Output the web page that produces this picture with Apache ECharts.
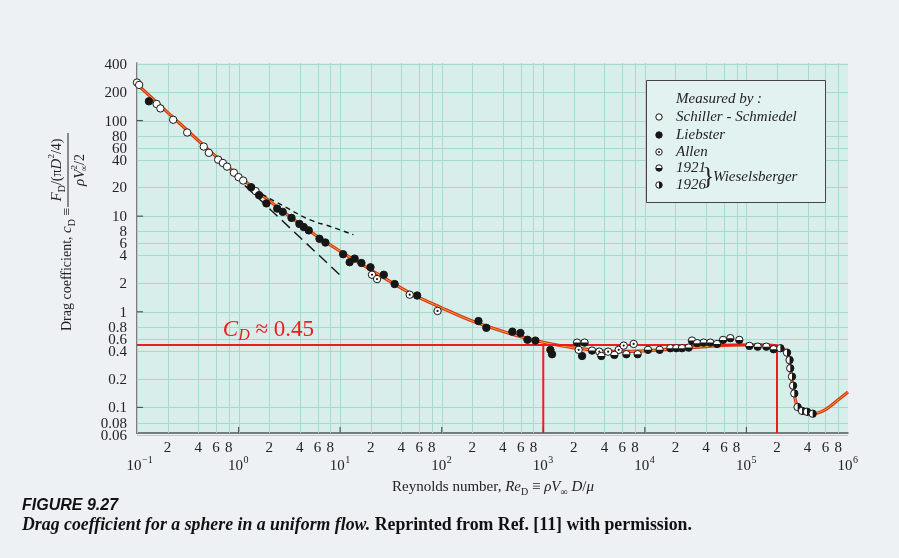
<!DOCTYPE html>
<html>
<head>
<meta charset="utf-8">
<script src="https://cdn.jsdelivr.net/npm/echarts@6/dist/echarts.min.js"></script>
<style>
  html, body { margin: 0; background: #eef1f4; }
  #chart { width: 899px; height: 558px; }
</style>
</head>
<body>
<div id="chart"></div>
<script>
'use strict';
// axis ranges
const xMin = 0.1, xMax = 1e6;
const yMin = 0.054, yMax = 400;

// tick labels
const xDecades = [0.1, 1, 10, 100, 1000, 10000, 100000, 1000000];
const xDecadeExp = ['\u22121', '0', '1', '2', '3', '4', '5', '6'];
const minorSteps = [2, 4, 6, 8];
const yTickLabels = [400, 200, 100, 80, 60, 40, 20, 10, 8, 6, 4, 2, 1, 0.8, 0.6, 0.4, 0.2, 0.1, 0.08, 0.06];
const yMajor = [0.1, 1, 10, 100];

// fitted curve
const curveRe = [0.1, 0.2, 0.5, 1, 2, 5, 10, 20, 50, 100, 200, 500, 1000, 2000, 5000, 1e4, 2e4, 5e4, 1e5, 1.6e5, 2.2e5, 2.5e5, 2.7e5, 2.85e5, 3.1e5, 3.5e5, 4.5e5, 6e5, 8e5, 1e6];
const curveCd = [240, 122, 50, 26.5, 14.5, 7.0, 4.3, 2.75, 1.55, 1.1, 0.8, 0.58, 0.48, 0.42, 0.385, 0.39, 0.41, 0.44, 0.45, 0.45, 0.42, 0.37, 0.26, 0.17, 0.11, 0.09, 0.086, 0.095, 0.12, 0.145];

// asymptotes (dashed)
const stokesRe = [1.15, 10.5];
const stokesCd = [21, 2.3];
const oseenRe = [1.7, 3, 5, 8, 13.5];
const oseenCd = [17, 12.2, 9.2, 7.8, 6.4];

// reference lines
const cdRef = 0.45;
const reMarks = [1000, 200000];

// measurements
const schiller = [[0.1, 250], [0.105, 236], [0.156, 149], [0.17, 134], [0.227, 102], [0.312, 75], [0.454, 53.5], [0.51, 46], [0.63, 39], [0.7, 36], [0.77, 33], [0.9, 28.5], [1.0, 25.6], [1.11, 23.6], [1.47, 18.3]];
const liebster = [[0.131, 159], [1.33, 20.1], [1.59, 16.6], [1.88, 13.6], [2.4, 12.0], [2.72, 11.1], [3.32, 9.6], [3.97, 8.3], [4.38, 7.7], [4.91, 7.1], [6.26, 5.8], [7.16, 5.3], [10.7, 4.0], [12.4, 3.3], [13.9, 3.6], [16.2, 3.24], [19.9, 2.92], [26.9, 2.44], [34.4, 1.95], [57.3, 1.48], [230, 0.8], [275, 0.68], [496, 0.62], [596, 0.6], [698, 0.51], [836, 0.5], [1175, 0.4], [1220, 0.36], [2410, 0.345]];
const allen = [[20.6, 2.44], [23.1, 2.2], [48.4, 1.51], [91, 1.02], [2230, 0.4], [3560, 0.383], [4350, 0.383], [5530, 0.4], [6190, 0.443], [7760, 0.461]];
const wies1921 = [[2150, 0.476], [2550, 0.476], [3020, 0.393], [3730, 0.345], [5010, 0.354], [6570, 0.36], [8490, 0.36], [10740, 0.4], [13990, 0.4], [17810, 0.416], [20400, 0.416], [23200, 0.416], [27000, 0.422], [29100, 0.5], [32700, 0.47], [37900, 0.476], [44100, 0.476], [51400, 0.461], [58900, 0.508], [69400, 0.53], [85100, 0.508], [107000, 0.44], [129000, 0.432], [157000, 0.432], [185000, 0.406]];
const wies1926 = [[216000, 0.416], [251000, 0.374], [266000, 0.313], [270000, 0.257], [281000, 0.21], [288000, 0.169], [296000, 0.14], [319000, 0.101], [353000, 0.092], [395000, 0.09], [449000, 0.086]];

const SERIF = '"Liberation Serif", "DejaVu Serif", serif';
const INK = '#161616';

function zip(a, b) { return a.map((v, i) => [v, b[i]]); }

function markerShapes(kind, cx, cy, r, z) {
  let out = [{
    type: 'circle', z: z, shape: { cx: cx, cy: cy, r: r },
    style: { fill: kind === 'filled' ? INK : '#ffffff', stroke: INK, lineWidth: 1 }
  }];
  if (kind === 'bottom') {
    out.push({ type: 'sector', z: z, shape: { cx: cx, cy: cy, r0: 0, r: r, startAngle: 0, endAngle: Math.PI }, style: { fill: INK } });
  }
  if (kind === 'right') {
    out.push({ type: 'sector', z: z, shape: { cx: cx, cy: cy, r0: 0, r: r, startAngle: -Math.PI / 2, endAngle: Math.PI / 2 }, style: { fill: INK } });
  }
  if (kind === 'dot') {
    out.push({ type: 'circle', z: z, shape: { cx: cx, cy: cy, r: 1.1 }, style: { fill: INK } });
  }
  return out;
}

function pointSeries(name, data, kind) {
  return {
    name: name, type: 'custom', data: data, z: 5, clip: false,
    encode: { x: 0, y: 1 },
    renderItem: function (params, api) {
      let p = api.coord([api.value(0), api.value(1)]);
      return { type: 'group', children: markerShapes(kind, p[0], p[1], 3.7) };
    }
  };
}

let chart = echarts.init(document.getElementById('chart'));
chart.setOption({
  backgroundColor: '#eef1f4',
  animation: false,
  grid: { left: 137, right: 51, top: 63, bottom: 125, show: true, backgroundColor: '#d7eeea', borderWidth: 0 },
  xAxis: {
    type: 'log', logBase: 10, min: xMin, max: xMax,
    axisLine: { show: true, lineStyle: { color: '#555', width: 1.5 } },
    axisTick: { show: false }, axisLabel: { show: false }, splitLine: { show: false }
  },
  yAxis: {
    type: 'log', logBase: 10, min: yMin, max: yMax,
    axisLine: { show: true, lineStyle: { color: '#555', width: 1.5 } },
    axisTick: { show: false }, axisLabel: { show: false }, splitLine: { show: false }
  },
  series: [
    { type: 'line', data: zip(curveRe, curveCd), smooth: 0.3, showSymbol: false, z: 2, lineStyle: { color: '#d8361c', width: 3.2 } },
    { type: 'line', data: zip(curveRe, curveCd), smooth: 0.3, showSymbol: false, z: 2, lineStyle: { color: '#f0a62a', width: 1 } },
    { type: 'line', data: zip(stokesRe, stokesCd), showSymbol: false, z: 2, lineStyle: { color: INK, width: 1.4, type: [11, 6] } },
    { type: 'line', data: zip(oseenRe, oseenCd), smooth: true, showSymbol: false, z: 2, lineStyle: { color: INK, width: 1.4, type: [5, 4] } },
    { type: 'line', data: [[xMin, cdRef], [reMarks[1], cdRef], [reMarks[1], yMin]], showSymbol: false, z: 3, lineStyle: { color: '#ee1c1c', width: 2 } },
    { type: 'line', data: [[reMarks[0], cdRef], [reMarks[0], yMin]], showSymbol: false, z: 3, lineStyle: { color: '#ee1c1c', width: 2 } },
    pointSeries('Schiller - Schmiedel', schiller, 'open'),
    pointSeries('Liebster', liebster, 'filled'),
    pointSeries('Allen', allen, 'dot'),
    pointSeries('1921', wies1921, 'bottom'),
    pointSeries('1926', wies1926, 'right')
  ]
});

function px(x, y) { return chart.convertToPixel({ xAxisIndex: 0, yAxisIndex: 0 }, [x, y]); }

// the printed graph paper sets its 6 and 8 lines a little lower than true log spacing
function paperShift(v) {
  let m = Math.round(v / Math.pow(10, Math.floor(Math.log10(v) + 1e-9)));
  if (m === 8 || m === 6) return 6;
  if (m === 4) return 1;
  return 0;
}

let g = [];
let plotLeft = px(xMin, yMin)[0], plotRight = px(xMax, yMin)[0];
let plotTop = px(xMin, yMax)[1], plotBottom = px(xMin, yMin)[1];
let gridColor = '#a3dacd';

// paper grid
xDecades.forEach(function (d, i) {
  if (i === xDecades.length - 1) return;
  [1].concat(minorSteps).forEach(function (m) {
    let x = Math.round(px(d * m, 1)[0]) + 0.5;
    g.push({ type: 'line', z: 1, silent: true, shape: { x1: x, y1: plotTop, x2: x, y2: plotBottom }, style: { stroke: gridColor, lineWidth: 1 } });
  });
});
yTickLabels.forEach(function (v) {
  let y = Math.round(px(1, v)[1] + paperShift(v)) + 0.5;
  g.push({ type: 'line', z: 1, silent: true, shape: { x1: plotLeft, y1: y, x2: plotRight, y2: y }, style: { stroke: gridColor, lineWidth: 1 } });
});

// ticks
xDecades.slice(1, -1).forEach(function (d) {
  let x = px(d, 1)[0];
  g.push({ type: 'line', z: 6, shape: { x1: x, y1: plotBottom, x2: x, y2: plotBottom - 6 }, style: { stroke: '#555', lineWidth: 1.2 } });
});
yMajor.forEach(function (v) {
  let y = px(1, v)[1];
  g.push({ type: 'line', z: 6, shape: { x1: plotLeft, y1: y, x2: plotLeft + 6, y2: y }, style: { stroke: '#555', lineWidth: 1.2 } });
});

// x labels
xDecades.forEach(function (d, i) {
  let x = px(d, 1)[0];
  g.push({ type: 'text', z: 6, x: x - 3, y: plotBottom + 33, style: { text: '10', font: '15px ' + SERIF, fill: '#222', align: 'center', verticalAlign: 'middle' } });
  g.push({ type: 'text', z: 6, x: x + 5, y: plotBottom + 27, style: { text: xDecadeExp[i], font: '10px ' + SERIF, fill: '#222', align: 'left', verticalAlign: 'middle' } });
  if (i === xDecades.length - 1) return;
  minorSteps.forEach(function (m) {
    let xm = px(d * m, 1)[0];
    g.push({ type: 'text', z: 6, x: xm, y: plotBottom + 15, style: { text: String(m), font: '15px ' + SERIF, fill: '#222', align: 'center', verticalAlign: 'middle' } });
  });
});

// y labels
yTickLabels.forEach(function (v) {
  let y = px(1, v)[1] + paperShift(v);
  g.push({ type: 'text', z: 6, x: plotLeft - 10, y: y + 1, style: { text: String(v), font: '15px ' + SERIF, fill: '#222', align: 'right', verticalAlign: 'middle' } });
});

// axis titles
let richBase = {
  sub: { fontSize: 10, lineHeight: 12, verticalAlign: 'bottom', fontFamily: SERIF },
  sup: { fontSize: 9, lineHeight: 12, verticalAlign: 'top', fontFamily: SERIF },
  it: { fontSize: 15, lineHeight: 20, fontStyle: 'italic', fontFamily: SERIF }
};
g.push({
  type: 'text', z: 6, x: 392, y: 487,
  style: {
    text: 'Reynolds number, {it|Re}{sub|D} \u2261 {it|\u03c1V}{sub|\u221e} {it|D}/{it|\u03bc}',
    font: '15px ' + SERIF, lineHeight: 20, fill: '#222', align: 'left', verticalAlign: 'middle', rich: richBase
  }
});
g.push({
  type: 'group', x: 67, y: 331, rotation: Math.PI / 2, z: 6,
  children: [
    { type: 'text', z: 6, x: 0, y: 0, style: { text: 'Drag coefficient, {it|c}{sub|D} \u2261', font: '14px ' + SERIF, lineHeight: 20, fill: '#222', align: 'left', verticalAlign: 'middle', rich: richBase } },
    { type: 'text', z: 6, x: 161, y: -10, style: { text: '{it|F}{sub|D}/(\u03c0{it|D}{sup|2}/4)', font: '14px ' + SERIF, lineHeight: 20, fill: '#222', align: 'center', verticalAlign: 'middle', rich: richBase } },
    { type: 'line', z: 6, shape: { x1: 124, y1: 1, x2: 198, y2: 1 }, style: { stroke: '#222', lineWidth: 1 } },
    { type: 'text', z: 6, x: 161, y: 13, style: { text: '{it|\u03c1V}{sup|2}/2', font: '14px ' + SERIF, lineHeight: 20, fill: '#222', align: 'center', verticalAlign: 'middle', rich: richBase } },
    { type: 'text', z: 6, x: 163, y: 18, style: { text: '\u221e', font: '9px ' + SERIF, fill: '#222', align: 'center', verticalAlign: 'middle' } }
  ]
});

// C_D label
let lp = px(0.7, cdRef);
g.push({
  type: 'text', z: 6, x: lp[0], y: lp[1] - 15,
  style: {
    text: '{c|C}{d|D} \u2248 0.45', font: '23px ' + SERIF, lineHeight: 28, fill: '#ee1c1c', align: 'left', verticalAlign: 'middle',
    rich: { c: { fontSize: 23, fontStyle: 'italic', lineHeight: 28, fontFamily: SERIF, fill: '#ee1c1c' }, d: { fontSize: 16, fontStyle: 'italic', lineHeight: 18, verticalAlign: 'bottom', fontFamily: SERIF, fill: '#ee1c1c' } }
  }
});

// legend box
let legendRows = [
  ['Schiller - Schmiedel', 'open', 117],
  ['Liebster', 'filled', 135],
  ['Allen', 'dot', 152],
  ['1921', 'bottom', 168],
  ['1926', 'right', 185]
];
g.push({ type: 'rect', z: 6, shape: { x: 646.5, y: 80.5, width: 179, height: 122 }, style: { fill: '#e2f2f0', stroke: '#444', lineWidth: 1 } });
g.push({ type: 'text', z: 7, x: 676, y: 99, style: { text: 'Measured by :', font: 'italic 15px ' + SERIF, fill: '#222', align: 'left', verticalAlign: 'middle' } });
legendRows.forEach(function (r) {
  markerShapes(r[1], 659, r[2], 3.2, 8).forEach(function (s) { g.push(s); });
  g.push({ type: 'text', z: 7, x: 676, y: r[2], style: { text: r[0], font: 'italic 15px ' + SERIF, fill: '#222', align: 'left', verticalAlign: 'middle' } });
});
g.push({ type: 'text', z: 7, x: 702, y: 177, style: { text: '}', font: '26px ' + SERIF, fill: '#222', align: 'left', verticalAlign: 'middle' } });
g.push({ type: 'text', z: 7, x: 713, y: 177, style: { text: 'Wieselsberger', font: 'italic 15px ' + SERIF, fill: '#222', align: 'left', verticalAlign: 'middle' } });

// caption
g.push({ type: 'text', z: 7, x: 22, y: 506, style: { text: 'FIGURE 9.27', font: 'italic bold 16px "Liberation Sans", Arial, sans-serif', fill: '#111', align: 'left', verticalAlign: 'middle' } });
g.push({
  type: 'text', z: 7, x: 22, y: 525,
  style: {
    text: '{a|Drag coefficient for a sphere in a uniform flow.} Reprinted from Ref. [11] with permission.',
    font: 'bold 17.8px ' + SERIF, fill: '#111', align: 'left', verticalAlign: 'middle',
    rich: { a: { fontStyle: 'italic', fontWeight: 'bold', fontSize: 17.8, fontFamily: SERIF } }
  }
});

chart.setOption({ graphic: g });

window.onresize = function () { chart.resize(); };
</script>
</body>
</html>
